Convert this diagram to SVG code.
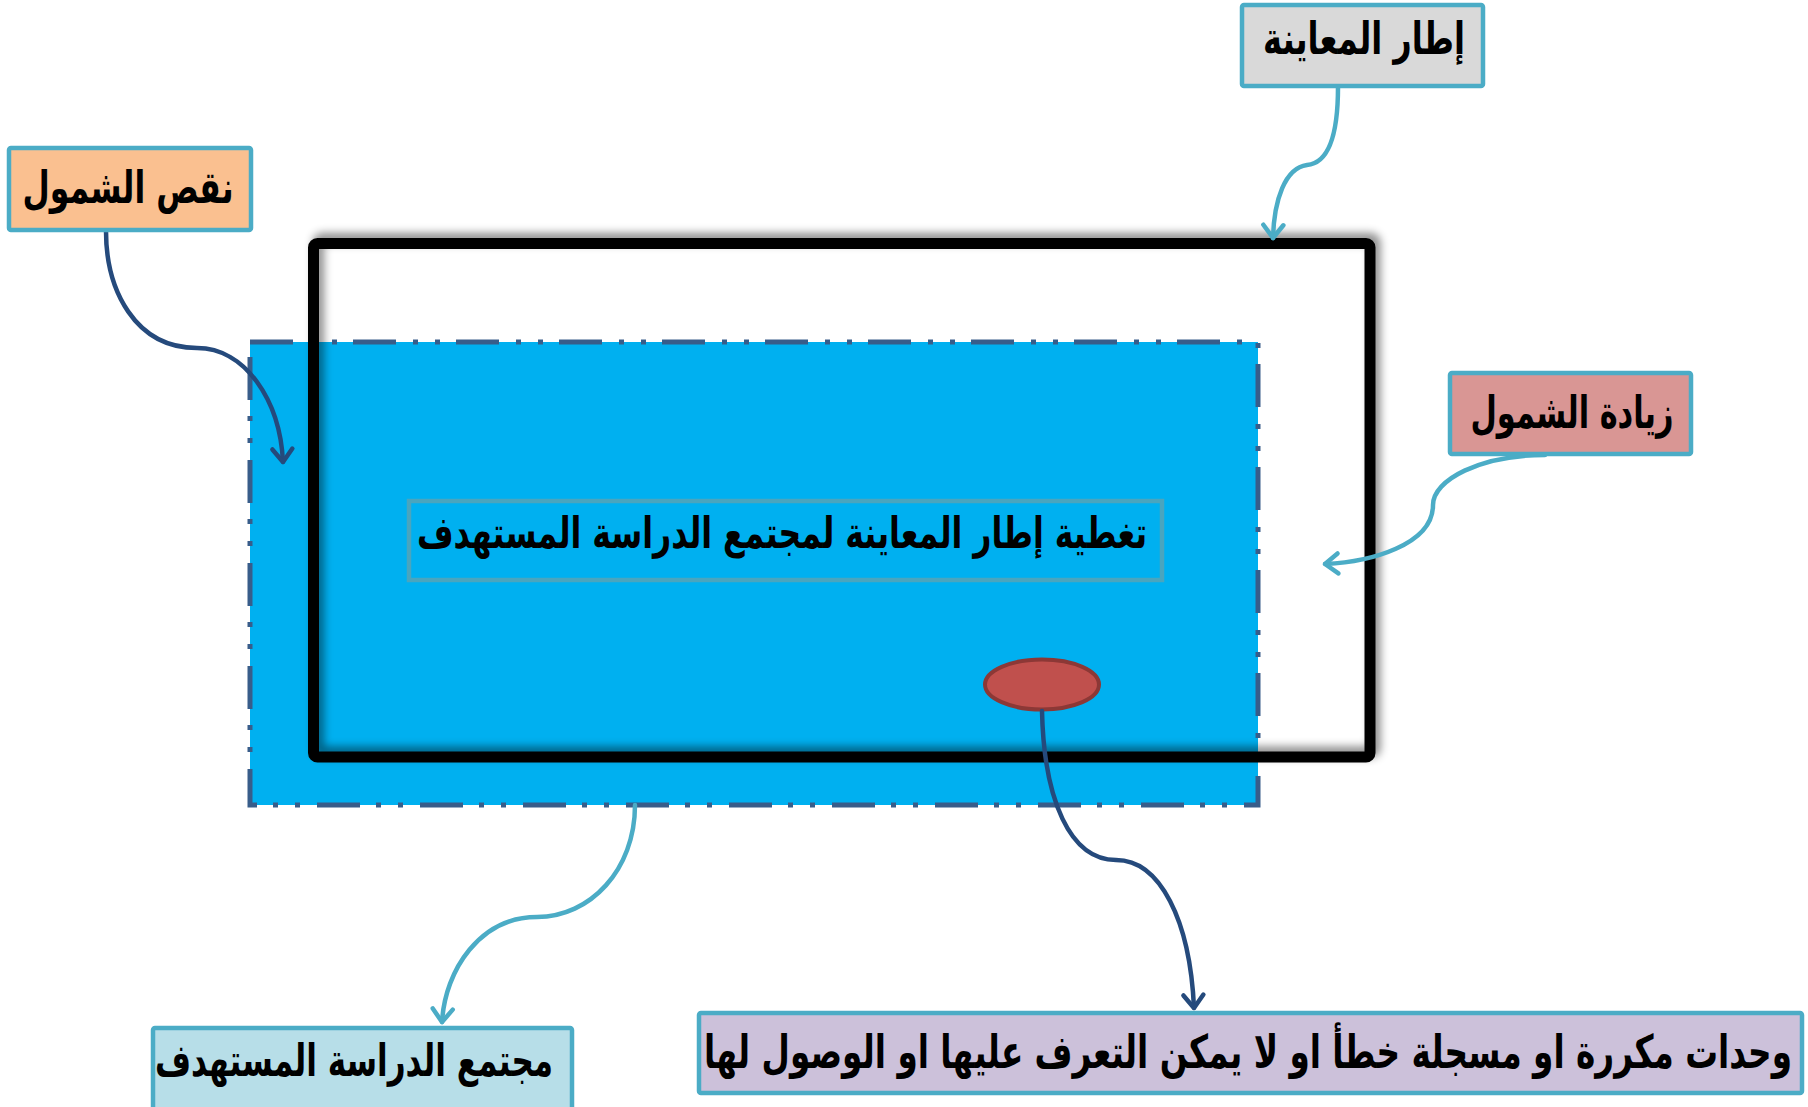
<svg xmlns="http://www.w3.org/2000/svg" width="1808" height="1107" viewBox="0 0 1808 1107">
<style>
.box{stroke:#4BACC6;stroke-width:4.5}
.lbl{font-family:'DejaVu Sans',sans-serif;font-weight:bold;fill:#000;text-anchor:middle;direction:rtl}
.c-light{fill:none;stroke:#4BACC6;stroke-width:4.5;stroke-linecap:round}
.c-dark{fill:none;stroke:#254A7C;stroke-width:4.5;stroke-linecap:round}
</style>
<defs>
<filter id="sh" x="-10%" y="-10%" width="120%" height="120%">
<feDropShadow dx="5" dy="-5" stdDeviation="4" flood-color="#000" flood-opacity="0.45"/>
</filter>
<marker id="aL" markerUnits="userSpaceOnUse" viewBox="-18 -14 22 28" markerWidth="22" markerHeight="28" refX="0" refY="0" orient="auto">
<path d="M-13,-10 L0,0 L-13,10" fill="none" stroke="#4BACC6" stroke-width="4.5" stroke-linecap="round" stroke-linejoin="round"/>
</marker>
<marker id="aD" markerUnits="userSpaceOnUse" viewBox="-18 -14 22 28" markerWidth="22" markerHeight="28" refX="0" refY="0" orient="auto">
<path d="M-13,-10 L0,0 L-13,10" fill="none" stroke="#254A7C" stroke-width="4.5" stroke-linecap="round" stroke-linejoin="round"/>
</marker>
</defs>
<rect width="1808" height="1107" fill="#fff"/>

<g id="study-population-area">
<rect x="250" y="342" width="1008" height="463" fill="#00B0F0" stroke="#385D8A" stroke-width="5" stroke-dasharray="43 17 5 17 5 16"/>
</g>

<g id="sampling-frame-area">
<rect x="313.5" y="243.5" width="1056.5" height="513.5" rx="4" fill="none" stroke="#000" stroke-width="11" filter="url(#sh)"/>
</g>

<g id="coverage-label">
<rect x="409" y="501" width="753" height="79" fill="none" stroke="#4AA5BE" stroke-width="4.5"/>
<text class="lbl" x="782" y="548" font-size="44" textLength="730" lengthAdjust="spacingAndGlyphs">تغطية إطار المعاينة لمجتمع الدراسة المستهدف</text>
</g>

<g id="error-units">
<ellipse cx="1042" cy="684.5" rx="57" ry="25" fill="#C0504D" stroke="#8C3836" stroke-width="4"/>
</g>

<g id="connectors">
<path class="c-light" d="M1338,87 C1338,130 1330,163 1307,165 C1285,168 1274,200 1273,238" marker-end="url(#aL)"/>
<path class="c-dark" d="M106,231 C106,290 135,348 197,348 C245,348 280,400 283,462" marker-end="url(#aD)"/>
<path class="c-light" d="M1545,455 C1480,455 1433,480 1433,505 C1433,545 1370,562 1325,564" marker-end="url(#aL)"/>
<path class="c-light" d="M635,805 C635,870 590,917 537,917 C480,917 445,970 442,1022" marker-end="url(#aL)"/>
<path class="c-dark" d="M1042,711 C1044,800 1070,860 1116,860 C1160,860 1190,920 1194,1008" marker-end="url(#aD)"/>
</g>

<g id="node-frame">
<rect class="box" x="1242" y="5" width="241" height="81" rx="2" fill="#D9D9D9"/>
<text class="lbl" x="1364" y="54" font-size="45" textLength="202" lengthAdjust="spacingAndGlyphs">إطار المعاينة</text>
</g>

<g id="node-undercoverage">
<rect class="box" x="9" y="148" width="242" height="82" rx="2" fill="#FAC090"/>
<text class="lbl" x="128" y="203" font-size="45" textLength="211" lengthAdjust="spacingAndGlyphs">نقص الشمول</text>
</g>

<g id="node-overcoverage">
<rect class="box" x="1450" y="373" width="241" height="81" rx="2" fill="#D99694"/>
<text class="lbl" x="1572" y="428" font-size="45" textLength="203" lengthAdjust="spacingAndGlyphs">زيادة الشمول</text>
</g>

<g id="node-population">
<rect class="box" x="153" y="1028" width="419" height="90" rx="2" fill="#B7DEE8"/>
<text class="lbl" x="354" y="1076" font-size="45" textLength="398" lengthAdjust="spacingAndGlyphs">مجتمع الدراسة المستهدف</text>
</g>

<g id="node-errors">
<rect class="box" x="699" y="1013" width="1103" height="80" rx="2" fill="#CCC1DA"/>
<text class="lbl" x="1248" y="1068" font-size="46" textLength="1088" lengthAdjust="spacingAndGlyphs">وحدات مكررة او مسجلة خطأ او لا يمكن التعرف عليها او الوصول لها</text>
</g>
</svg>
